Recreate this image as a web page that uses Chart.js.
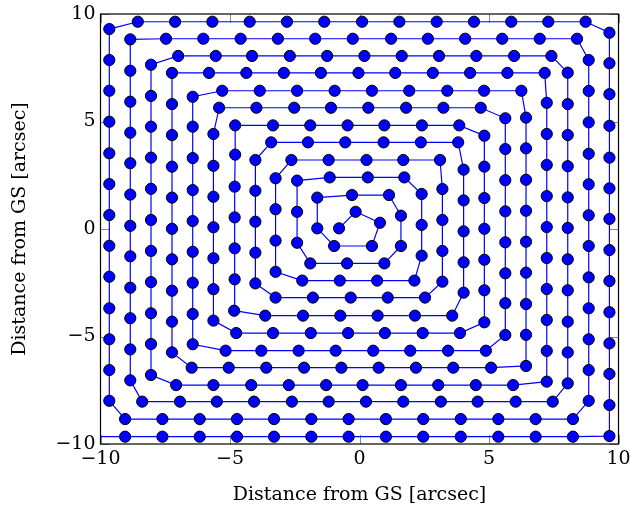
<!DOCTYPE html>
<html>
<head>
<meta charset="utf-8">
<script src="https://cdn.jsdelivr.net/npm/chart.js@4.4.0/dist/chart.umd.min.js"></script>
<style>
  html, body { margin: 0; padding: 0; background: #fff; }
  #wrap { width: 630px; height: 512px; }
</style>
</head>
<body>
<div id="wrap"><canvas id="spiral" width="630" height="512"></canvas></div>
<script>
// Square spiral of pointings, in path order
// (starts near the centre, runs clockwise outwards; one side per line).
var spiralX = [
  // centre
  -0.79, -0.15, 0.79, 0.48, -0.98, -1.63, -1.63, -0.29, 1.14, 1.60, 1.60, 0.96, -0.48, -1.90,
  // turn 3
  -2.41, -2.41, -2.41,
  -1.15, 0.32, 1.73,
  2.40, 2.40, 2.40,
  2.12, 0.68, -0.76, -2.21,
  // turn 4
  -3.24, -3.24, -3.24, -3.24,
  -2.63, -1.19, 0.27, 1.69, 3.11,
  3.20, 3.20, 3.20, 3.20,
  2.53, 1.09, -0.34, -1.80, -3.24,
  // turn 5
  -4.02, -4.02, -4.02, -4.02, -4.02,
  -3.41, -1.99, -0.55, 0.93, 2.37, 3.81,
  4.02, 4.02, 4.02, 4.02, 4.02,
  3.58, 2.14, 0.70, -0.74, -2.18, -3.64,
  // turn 6
  -4.84, -4.82, -4.82, -4.82, -4.82, -4.80, -4.80,
  -3.34, -1.90, -0.46, 0.96, 2.41, 3.85,
  4.82, 4.82, 4.82, 4.82, 4.82, 4.82, 4.82,
  3.88, 2.44, 0.98, -0.44, -1.88, -3.34, -4.76,
  // turn 7
  -5.64, -5.64, -5.64, -5.64, -5.64, -5.64, -5.64,
  -5.42, -3.98, -2.52, -1.10, 0.34, 1.80, 3.24, 4.68,
  5.63, 5.63, 5.63, 5.63, 5.63, 5.63, 5.63, 5.63,
  4.88, 3.42, 1.96, 0.53, -0.92, -2.35, -3.79, -5.17,
  // turn 8
  -6.44, -6.44, -6.44, -6.44, -6.44, -6.44, -6.44, -6.44, -6.44,
  -5.30, -3.85, -2.41, -0.96, 0.48, 1.92, 3.39, 4.81, 6.25,
  6.43, 6.43, 6.43, 6.43, 6.43, 6.43, 6.43, 6.43, 6.43,
  5.08, 3.62, 2.18, 0.74, -0.70, -2.14, -3.60, -5.05, -6.48,
  // turn 9
  -7.24, -7.24, -7.24, -7.24, -7.24, -7.24, -7.24, -7.24, -7.24, -7.24,
  -5.81, -4.37, -2.92, -1.49, -0.04, 1.38, 2.83, 4.27, 5.71, 7.15,
  7.23, 7.23, 7.23, 7.23, 7.23, 7.23, 7.23, 7.23, 7.23, 7.23,
  5.93, 4.49, 3.04, 1.60, 0.12, -1.29, -2.73, -4.18, -5.64, -7.08,
  // turn 10
  -8.05, -8.05, -8.05, -8.05, -8.05, -8.05, -8.05, -8.05, -8.05, -8.05, -8.05,
  -7.00, -5.55, -4.15, -2.69, -1.25, 0.19, 1.63, 3.07, 4.51, 5.97, 7.41,
  8.04, 8.04, 8.04, 8.04, 8.04, 8.04, 8.04, 8.04, 8.04, 8.04, 8.04,
  7.46, 6.03, 4.56, 3.14, 1.69, 0.25, -1.19, -2.61, -4.07, -5.51, -6.93, -8.39,
  // turn 11
  -8.85, -8.85, -8.85, -8.85, -8.85, -8.85, -8.85, -8.85, -8.85, -8.85, -8.85, -8.85,
  -7.47, -6.03, -4.59, -3.15, -1.71, -0.26, 1.22, 2.64, 4.08, 5.51, 6.96, 8.40,
  8.85, 8.85, 8.85, 8.85, 8.85, 8.85, 8.85, 8.85, 8.85, 8.85, 8.85, 8.85,
  8.24, 6.80, 5.36, 3.91, 2.46, 1.02, -0.42, -1.86, -3.30, -4.73, -6.17, -7.61, -9.05,
  // turn 12 (last point runs off the left edge)
  -9.66, -9.66, -9.66, -9.66, -9.66, -9.66, -9.66, -9.66, -9.66, -9.66, -9.66, -9.66, -9.66,
  -8.56, -7.12, -5.68, -4.24, -2.80, -1.36, 0.10, 1.54, 2.98, 4.42, 5.86, 7.29, 8.73,
  9.65, 9.65, 9.65, 9.65, 9.65, 9.65, 9.65, 9.65, 9.65, 9.65, 9.65, 9.65, 9.65, 9.65,
  8.24, 6.80, 5.36, 3.91, 2.46, 1.02, -0.42, -1.86, -3.30, -4.73, -6.17, -7.61, -9.05, -10.49
];

var spiralY = [
  // centre
  0.03, 0.80, 0.29, -0.79, -0.79, 0.03, 1.46, 1.58, 1.58, 0.62, -0.79, -1.60, -1.60, -1.60,
  // turn 3
  -0.64, 0.80, 2.25,
  2.40, 2.40, 2.40,
  1.63, 0.19, -1.24,
  -2.40, -2.40, -2.40, -2.40,
  // turn 4
  -1.99, -0.54, 0.92, 2.36,
  3.21, 3.21, 3.21, 3.21, 3.21,
  1.86, 0.42, -1.02, -2.45,
  -3.19, -3.19, -3.19, -3.19, -3.19,
  // turn 5
  -2.53, -1.10, 0.34, 1.78, 3.21,
  4.03, 4.03, 4.03, 4.03, 4.03, 4.03,
  2.76, 1.33, -0.11, -1.55, -2.96,
  -4.03, -4.03, -4.03, -4.03, -4.03, -4.03,
  // turn 6
  -3.80, -2.34, -0.90, 0.54, 1.97, 3.46, 4.82,
  4.82, 4.82, 4.82, 4.82, 4.82, 4.82,
  4.34, 2.90, 1.44, 0.01, -1.43, -2.85, -4.34,
  -4.84, -4.84, -4.84, -4.84, -4.84, -4.84, -4.84,
  // turn 7
  -4.26, -2.80, -1.36, 0.08, 1.50, 2.94, 4.42,
  5.64, 5.64, 5.64, 5.64, 5.64, 5.64, 5.64, 5.64,
  5.15, 3.72, 2.27, 0.82, -0.62, -2.06, -3.45, -4.93,
  -5.66, -5.66, -5.66, -5.66, -5.66, -5.66, -5.66, -5.66,
  // turn 8
  -5.36, -3.95, -2.50, -1.06, 0.37, 1.81, 3.30, 4.76, 6.15,
  6.43, 6.43, 6.43, 6.43, 6.43, 6.43, 6.43, 6.43, 6.43,
  5.18, 3.75, 2.29, 0.85, -0.59, -2.03, -3.49, -4.92, -6.37,
  -6.45, -6.45, -6.45, -6.45, -6.45, -6.45, -6.45, -6.45, -6.45,
  // turn 9
  -5.74, -4.31, -2.87, -1.41, 0.01, 1.46, 2.90, 4.37, 5.81, 7.26,
  7.26, 7.26, 7.26, 7.26, 7.26, 7.26, 7.26, 7.26, 7.26, 7.26,
  5.87, 4.42, 2.98, 1.53, 0.09, -1.35, -2.79, -4.23, -5.67, -7.10,
  -7.26, -7.26, -7.26, -7.26, -7.26, -7.26, -7.26, -7.26, -7.26, -7.26,
  // turn 10
  -6.79, -5.35, -3.92, -2.47, -1.02, 0.42, 1.87, 3.32, 4.76, 6.19, 7.64,
  8.05, 8.05, 8.05, 8.05, 8.05, 8.05, 8.05, 8.05, 8.05, 8.05, 8.05,
  7.27, 5.81, 4.37, 2.92, 1.47, 0.05, -1.41, -2.85, -4.31, -5.74, -7.18,
  -8.03, -8.03, -8.03, -8.03, -8.03, -8.03, -8.03, -8.03, -8.03, -8.03, -8.03, -8.03,
  // turn 11
  -7.04, -5.60, -4.15, -2.73, -1.27, 0.15, 1.60, 3.06, 4.48, 5.92, 7.36, 8.82,
  8.85, 8.85, 8.85, 8.85, 8.85, 8.85, 8.85, 8.85, 8.85, 8.85, 8.85, 8.85,
  7.86, 6.42, 4.96, 3.50, 2.08, 0.64, -0.79, -2.25, -3.69, -5.13, -6.56, -7.99,
  -8.84, -8.84, -8.84, -8.84, -8.84, -8.84, -8.84, -8.84, -8.84, -8.84, -8.84, -8.84, -8.84,
  // turn 12
  -7.99, -6.56, -5.13, -3.69, -2.22, -0.78, 0.65, 2.09, 3.52, 4.99, 6.43, 7.86, 9.30,
  9.64, 9.64, 9.64, 9.64, 9.64, 9.64, 9.64, 9.64, 9.64, 9.64, 9.64, 9.64, 9.64,
  9.13, 7.71, 6.27, 4.80, 3.32, 1.89, 0.47, -0.98, -2.42, -3.87, -5.32, -6.74, -8.19, -9.63,
  -9.66, -9.66, -9.66, -9.66, -9.66, -9.66, -9.66, -9.66, -9.66, -9.66, -9.66, -9.66, -9.66, -9.66
];

var xTicks = [-10, -5, 0, 5, 10];
var yTicks = [-10, -5, 0, 5, 10];
var xTitle = 'Distance from GS [arcsec]';
var yTitle = 'Distance from GS [arcsec]';

var FONT = { family: '"DejaVu Serif", serif', size: 19 };
var TICK_LEN = 9;

if (spiralX.length !== spiralY.length) console.warn('spiral arrays differ', spiralX.length, spiralY.length);

function fmtTick(v) { return v < 0 ? '\u2212' + Math.abs(v) : String(v); }

// pgfplots-style box: inward ticks on all four sides, frame on top
var frameTicks = {
  id: 'frameTicks',
  beforeDatasetsDraw: function (chart) {
    var ctx = chart.ctx, a = chart.chartArea;
    var sx = chart.scales.x, sy = chart.scales.y;
    ctx.save();
    ctx.strokeStyle = '#8a8a8a';
    ctx.lineWidth = 1;
    ctx.beginPath();
    xTicks.forEach(function (v) {
      var px = Math.round(sx.getPixelForValue(v)) + 0.5;
      ctx.moveTo(px, a.bottom); ctx.lineTo(px, a.bottom - TICK_LEN);
      ctx.moveTo(px, a.top);    ctx.lineTo(px, a.top + TICK_LEN);
    });
    yTicks.forEach(function (v) {
      var py = Math.round(sy.getPixelForValue(v)) + 0.5;
      ctx.moveTo(a.left, py);  ctx.lineTo(a.left + TICK_LEN, py);
      ctx.moveTo(a.right, py); ctx.lineTo(a.right - TICK_LEN, py);
    });
    ctx.stroke();
    ctx.restore();
  },
  afterDatasetsDraw: function (chart) {
    var ctx = chart.ctx, a = chart.chartArea;
    ctx.save();
    ctx.strokeStyle = '#000';
    ctx.lineWidth = 1.2;
    ctx.strokeRect(a.left, a.top, a.right - a.left, a.bottom - a.top);
    ctx.restore();
  }
};

var points = spiralX.map(function (x, i) { return { x: x, y: spiralY[i] }; });

new Chart(document.getElementById('spiral'), {
  type: 'scatter',
  data: {
    datasets: [{
      data: points,
      showLine: true,
      borderColor: '#0000ff',
      borderWidth: 1.2,
      tension: 0,
      pointRadius: 5.6,
      pointBackgroundColor: '#0000ff',
      pointBorderColor: '#000000',
      pointBorderWidth: 1
    }]
  },
  options: {
    responsive: false,
    animation: false,
    events: [],
    layout: { padding: { left: 0, right: 11.5, top: 14, bottom: 0 } },
    plugins: { legend: { display: false }, tooltip: { enabled: false } },
    scales: {
      x: {
        type: 'linear', min: -10, max: 10,
        afterBuildTicks: function (s) { s.ticks = xTicks.map(function (v) { return { value: v }; }); },
        // fixed band under the plot; the end labels may overhang the frame
        afterFit: function (s) { s.height = 68; s.paddingLeft = 0; s.paddingRight = 0; },
        grid: { display: false, drawTicks: false },
        border: { display: false },
        ticks: { font: FONT, color: '#000', padding: 4, maxRotation: 0, callback: fmtTick },
        title: { display: true, text: xTitle, font: FONT, color: '#000', padding: { top: 0, bottom: 6 } }
      },
      y: {
        type: 'linear', min: -10, max: 10,
        afterBuildTicks: function (s) { s.ticks = yTicks.map(function (v) { return { value: v }; }); },
        afterFit: function (s) { s.width = 100.5; s.paddingTop = 0; s.paddingBottom = 0; },
        grid: { display: false, drawTicks: false },
        border: { display: false },
        ticks: { font: FONT, color: '#000', padding: 5, callback: fmtTick },
        title: { display: true, text: yTitle, font: FONT, color: '#000', padding: { top: 9, bottom: 0 } }
      }
    }
  },
  plugins: [frameTicks]
});
</script>
</body>
</html>
